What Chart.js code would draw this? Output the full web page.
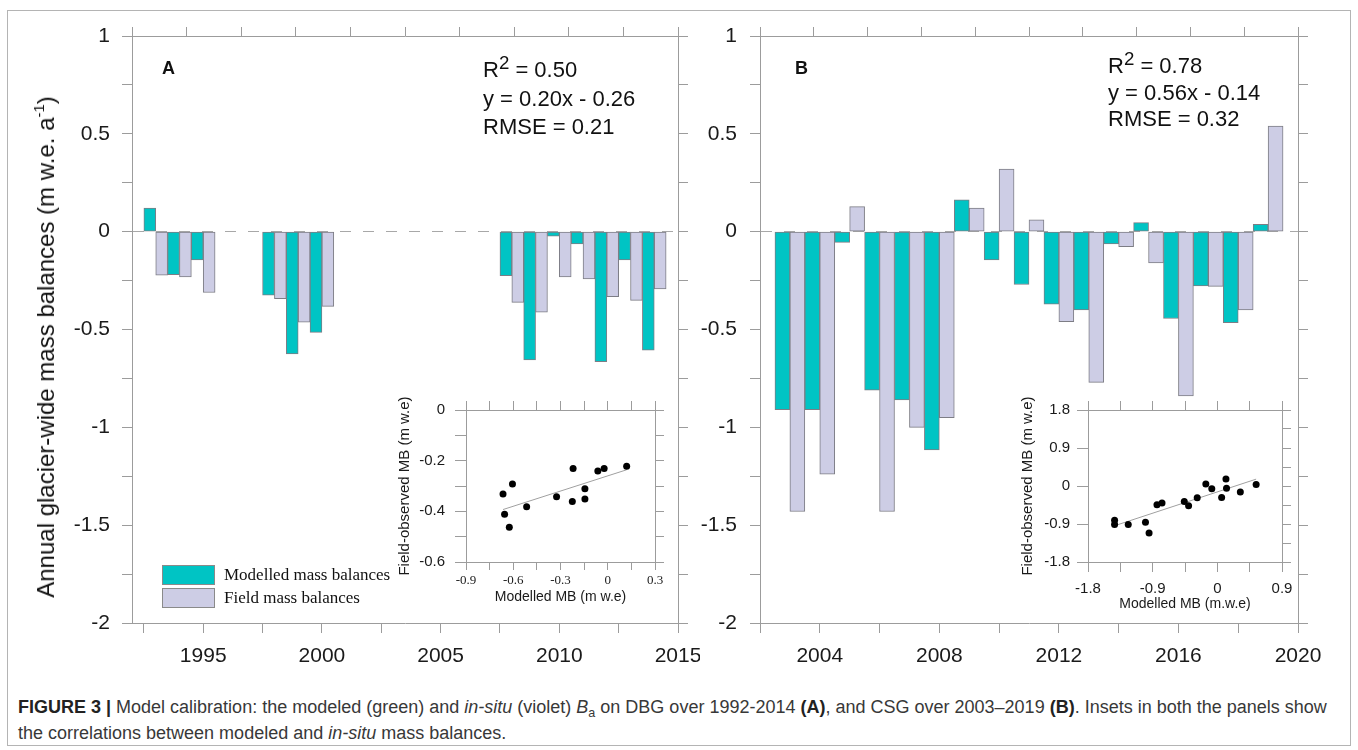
<!DOCTYPE html>
<html lang="en">
<head>
<meta charset="UTF-8">
<title>Figure 3 - Model calibration</title>
<script src="https://cdn.jsdelivr.net/npm/chart.js@4.4.0/dist/chart.umd.min.js"></script>
<style>
    body {
        margin: 0;
        width: 1358px;
        height: 750px;
        position: relative;
        overflow: hidden;
        background: #fff;
        font-family: 'Liberation Sans', Arial, Helvetica, sans-serif;
        color: #111;
    }
    canvas { position: absolute; }
    .frame {
        position: absolute; left: 7px; top: 10px; width: 1344px; height: 736px;
        border: 1px solid #b4b4b4; box-sizing: border-box;
    }
    .ytitle {
        position: absolute; left: 46px; top: 347px; font-size: 24px; white-space: nowrap;
        transform: translate(-50%, -50%) rotate(-90deg);
    }
    .ytitle sup { font-size: 0.62em; vertical-align: 0.7em; line-height: 0; }
    .panel-tag { position: absolute; font-weight: bold; font-size: 18px; line-height: 20px; }
    .stats { position: absolute; font-size: 22px; white-space: nowrap; }
    .stats sup { font-size: 0.85em; vertical-align: 0.45em; line-height: 0; }
    .legend { position: absolute; left: 162px; top: 565px; font-family: 'Liberation Serif', 'Times New Roman', serif; font-size: 17px; }
    .legend div { height: 22.5px; line-height: 20px; white-space: nowrap; }
    .legend span { display: inline-block; width: 51px; height: 18px; border: 1px solid #8a8a8a; vertical-align: top; margin-right: 9px; }
    .caption {
        position: absolute; left: 18px; top: 694px; font-size: 18px; line-height: 26px;
        color: #383838; white-space: nowrap;
    }
    .caption b { color: #222; }
    .caption sub { font-size: 0.7em; vertical-align: -0.3em; line-height: 0; }
</style>
</head>
<body>
<div class="frame"></div>
<canvas id="mainA" width="700" height="690" style="left:0;top:0"></canvas>
<canvas id="mainB" width="640" height="690" style="left:700px;top:0"></canvas>
<canvas id="insetA" width="290" height="215" style="left:385px;top:395px"></canvas>
<canvas id="insetB" width="295" height="220" style="left:1010px;top:395px"></canvas>

<div class="ytitle">Annual glacier-wide mass balances (m w.e. a<sup>-1</sup>)</div>

<div class="panel-tag" style="left:162px;top:58px">A</div>
<div class="panel-tag" style="left:795px;top:58px">B</div>

<div class="stats" style="left:483px;top:56px;line-height:28.5px">
    R<sup>2</sup> = 0.50<br>y = 0.20x - 0.26<br>RMSE = 0.21
</div>
<div class="stats" style="left:1108px;top:53px;line-height:26.5px">
    R<sup>2</sup> = 0.78<br>y = 0.56x - 0.14<br>RMSE = 0.32
</div>

<div class="legend">
    <div><span style="background:#00c4c4"></span>Modelled mass balances</div>
    <div><span style="background:#cdcde5"></span>Field mass balances</div>
</div>

<div class="caption"><b>FIGURE 3 |</b> Model calibration: the modeled (green) and <i>in-situ</i> (violet) <i>B</i><sub>a</sub> on DBG over 1992-2014 <b>(A)</b>, and CSG over 2003–2019 <b>(B)</b>. Insets in both the panels show<br>the correlations between modeled and <i>in-situ</i> mass balances.</div>

<script>
    // Panel A - DBG, annual mass balance (m w.e.)
    const yearsA = [1993, 1994, 1995, 1998, 1999, 2000, 2008, 2009, 2010, 2011, 2012, 2013, 2014];
    const modelledA = [0.12, -0.22, -0.145, -0.325, -0.625, -0.515, -0.225, -0.655, -0.023, -0.063, -0.665, -0.145, -0.605];
    const fieldA = [-0.222, -0.231, -0.311, -0.342, -0.463, -0.382, -0.361, -0.412, -0.231, -0.241, -0.332, -0.351, -0.292];

    // Panel B - CSG
    const yearsB = [2003, 2004, 2005, 2006, 2007, 2008, 2009, 2010, 2011, 2012, 2013, 2014, 2015, 2016, 2017, 2018, 2019];
    const modelledB = [-0.91, -0.91, -0.055, -0.81, -0.86, -1.115, 0.163, -0.145, -0.27, -0.37, -0.40, -0.063, 0.046, -0.444, -0.277, -0.465, 0.038];
    const fieldB = [-1.43, -1.24, 0.128, -1.43, -1.0, -0.95, 0.12, 0.32, 0.06, -0.46, -0.77, -0.077, -0.16, -0.84, -0.28, -0.40, 0.54];

    // fitted lines shown in the insets
    const fitA = { slope: 0.20, intercept: -0.26 };
    const fitB = { slope: 0.56, intercept: -0.14 };

    // tick labels
    const yLabels = [1, 0.5, 0, -0.5, -1, -1.5, -2];
    const xLabelsA = [1995, 2000, 2005, 2010, 2015];
    const xLabelsB = [2004, 2008, 2012, 2016, 2020];
    const insetAXLabels = [-0.9, -0.6, -0.3, 0, 0.3];
    const insetAYLabels = [0, -0.2, -0.4, -0.6];
    const insetBXLabels = [-1.8, -0.9, 0, 0.9];
    const insetBYLabels = [1.8, 0.9, 0, -0.9, -1.8];

    const SANS = "'Liberation Sans', Arial, Helvetica, sans-serif";
    const SERIF = "'Liberation Serif', 'Times New Roman', serif";
    const AXIS = '#9c9c9c';
    const TXT = '#1a1a1a';
    const GREEN = '#00c4c4';
    const VIOLET = '#cdcde5';
    const EDGE = '#7d7d85';

    function stepTicks(min, max, step) {
        const out = [];
        const n = Math.round((max - min) / step);
        for (let i = 0; i <= n; i++) out.push(+(min + i * step).toFixed(4));
        return out;
    }

    // only show a label where the tick matches one of the wanted values
    function pick(labels) {
        return function(v) {
            const m = labels.find(l => Math.abs(l - v) < 1e-6);
            return m === undefined ? '' : String(m);
        };
    }

    function setTicks(list) {
        return function(s) { s.ticks = list.map(v => ({ value: v })); };
    }

    function fixH(h) {
        return function(s) { s.height = h; s.paddingLeft = 0; s.paddingRight = 0; };
    }
    function fixW(w) {
        return function(s) { s.width = w; s.paddingTop = 0; s.paddingBottom = 0; };
    }

    function barPanel(id, cfg) {
        const mk = vals => cfg.years.map((x, i) => ({ x: x, y: vals[i] }));
        const yTicks = stepTicks(-2, 1, 0.25);
        const common = { borderColor: EDGE, borderWidth: 1, borderSkipped: false,
                         categoryPercentage: 1, barPercentage: 1, xAxisID: 'x', yAxisID: 'y' };
        return new Chart(document.getElementById(id), {
            type: 'bar',
            data: {
                datasets: [
                    Object.assign({ label: 'Modelled mass balances', data: mk(cfg.modelled), backgroundColor: GREEN }, common),
                    Object.assign({ label: 'Field mass balances', data: mk(cfg.field), backgroundColor: VIOLET }, common)
                ]
            },
            options: {
                responsive: false,
                animation: false,
                events: [],
                layout: { padding: 0 },
                plugins: { legend: { display: false }, tooltip: { enabled: false } },
                scales: {
                    x: {
                        type: 'linear', position: 'bottom', min: cfg.xMin, max: cfg.xMax, offset: false,
                        afterBuildTicks: setTicks(cfg.xTicks),
                        afterFit: fixH(67),
                        grid: { offset: false, drawOnChartArea: false, tickLength: 10, tickColor: AXIS },
                        border: { color: AXIS },
                        ticks: { autoSkip: false, maxRotation: 0, padding: 11, color: TXT,
                                 font: { family: SANS, size: 21 }, callback: pick(cfg.xLabels) }
                    },
                    xTop: {
                        type: 'linear', position: 'top', min: 0, max: 10, offset: false,
                        afterBuildTicks: setTicks(stepTicks(0, 10, 1)),
                        afterFit: fixH(36),
                        grid: { offset: false, drawOnChartArea: false, tickLength: 9, tickColor: AXIS },
                        border: { color: AXIS },
                        ticks: { display: false }
                    },
                    y: {
                        type: 'linear', position: 'left', min: -2, max: 1,
                        afterBuildTicks: setTicks(yTicks),
                        afterFit: fixW(cfg.left),
                        grid: {
                            // only the zero line is drawn, dashed
                            color: ctx => (ctx.tick && ctx.tick.value === 0) ? '#a8a8a8' : 'rgba(0,0,0,0)',
                            lineWidth: 1, tickLength: 10, tickColor: AXIS
                        },
                        border: { color: AXIS, dash: [11, 12] },
                        ticks: { padding: cfg.yPad, color: TXT, font: { family: SANS, size: 21 }, callback: pick(yLabels) }
                    },
                    yRight: {
                        type: 'linear', position: 'right', min: -2, max: 1,
                        afterBuildTicks: setTicks(yTicks),
                        afterFit: fixW(cfg.right),
                        grid: { drawOnChartArea: false, tickLength: 10, tickColor: AXIS },
                        border: { color: AXIS },
                        ticks: { display: false }
                    }
                }
            }
        });
    }

    function insetPanel(id, cfg) {
        const pts = cfg.xs.map((x, i) => ({ x: x, y: cfg.ys[i] }));
        const lo = Math.min(...cfg.xs), hi = Math.max(...cfg.xs);
        const line = [lo, hi].map(x => ({ x: x, y: cfg.fit.slope * x + cfg.fit.intercept }));
        const xT = stepTicks(cfg.xMin, cfg.xMax, cfg.xStep);
        const yT = stepTicks(cfg.yMin, cfg.yMax, cfg.yStep);
        return new Chart(document.getElementById(id), {
            type: 'scatter',
            data: {
                datasets: [
                    { data: line, showLine: true, borderColor: '#a0a0a0', borderWidth: 1, pointRadius: 0, order: 2 },
                    { data: pts, pointRadius: 3.5, backgroundColor: '#000', borderWidth: 0, order: 1 }
                ]
            },
            options: {
                responsive: false,
                animation: false,
                events: [],
                layout: { padding: 0 },
                plugins: { legend: { display: false }, tooltip: { enabled: false } },
                scales: {
                    x: {
                        type: 'linear', position: 'bottom', min: cfg.xMin, max: cfg.xMax,
                        afterBuildTicks: setTicks(xT),
                        afterFit: fixH(cfg.bottom),
                        grid: { drawOnChartArea: false, tickLength: cfg.xTick, tickColor: AXIS },
                        border: { color: AXIS },
                        ticks: { autoSkip: false, maxRotation: 0, padding: cfg.xPad, color: TXT,
                                 font: { family: cfg.xFont, size: cfg.xSize }, callback: pick(cfg.xLabels) },
                        title: { display: true, text: cfg.xTitle, color: TXT, font: { family: SANS, size: 14 },
                                 padding: { top: 0, bottom: cfg.xTitlePad } }
                    },
                    xTop: {
                        type: 'linear', position: 'top', min: cfg.xMin, max: cfg.xMax,
                        afterBuildTicks: setTicks(xT),
                        afterFit: fixH(15),
                        grid: { drawOnChartArea: false, tickLength: 9, tickColor: AXIS },
                        border: { color: AXIS },
                        ticks: { display: false }
                    },
                    y: {
                        type: 'linear', position: 'left', min: cfg.yMin, max: cfg.yMax,
                        afterBuildTicks: setTicks(yT),
                        afterFit: fixW(cfg.left),
                        grid: { drawOnChartArea: false, tickLength: 11, tickColor: AXIS },
                        border: { color: AXIS },
                        ticks: { padding: cfg.yPad, color: TXT, font: { family: SANS, size: 15 }, callback: pick(cfg.yLabels) },
                        title: { display: true, text: cfg.yTitle, color: TXT, font: { family: SANS, size: 15 },
                                 padding: { top: cfg.yTitlePad, bottom: 0 } }
                    },
                    yRight: {
                        type: 'linear', position: 'right', min: cfg.yMin, max: cfg.yMax,
                        afterBuildTicks: setTicks(yT),
                        afterFit: fixW(cfg.right),
                        grid: { drawOnChartArea: false, tickLength: 9, tickColor: AXIS },
                        border: { color: AXIS },
                        ticks: { display: false }
                    }
                }
            }
        });
    }

    barPanel('mainA', {
        years: yearsA, modelled: modelledA, field: fieldA,
        xMin: 1992, xMax: 2015, xTicks: stepTicks(1992.5, 2015, 2.5), xLabels: xLabelsA,
        left: 132, right: 22, yPad: 12
    });

    barPanel('mainB', {
        years: yearsB, modelled: modelledB, field: fieldB,
        xMin: 2002, xMax: 2020, xTicks: stepTicks(2002, 2020, 2), xLabels: xLabelsB,
        left: 60, right: 42, yPad: 13
    });

    // inset A: modelled on x, field on y
    insetPanel('insetA', {
        xs: modelledA, ys: fieldA, fit: fitA,
        xMin: -0.9, xMax: 0.3, xStep: 0.15, yMin: -0.6, yMax: 0, yStep: 0.1,
        xLabels: insetAXLabels, yLabels: insetAYLabels,
        xFont: SERIF, xSize: 13, xPad: 3, xTick: 8, xTitlePad: 4,
        xTitle: 'Modelled MB (m w.e)', yTitle: 'Field-observed MB (m w.e)',
        left: 81, right: 20, bottom: 48, yPad: 10, yTitlePad: 11
    });

    // inset B: points as plotted in the original (field on x, modelled on y)
    insetPanel('insetB', {
        xs: fieldB, ys: modelledB, fit: fitB,
        xMin: -1.8, xMax: 0.9, xStep: 0.45, yMin: -1.8, yMax: 1.8, yStep: 0.45,
        xLabels: insetBXLabels, yLabels: insetBYLabels,
        xFont: SANS, xSize: 15, xPad: 8, xTick: 10, xTitlePad: 2,
        xTitle: 'Modelled MB (m.w.e)', yTitle: 'Field-observed MB (m w.e)',
        left: 78, right: 23, bottom: 53, yPad: 7, yTitlePad: 9
    });
</script>
</body>
</html>
